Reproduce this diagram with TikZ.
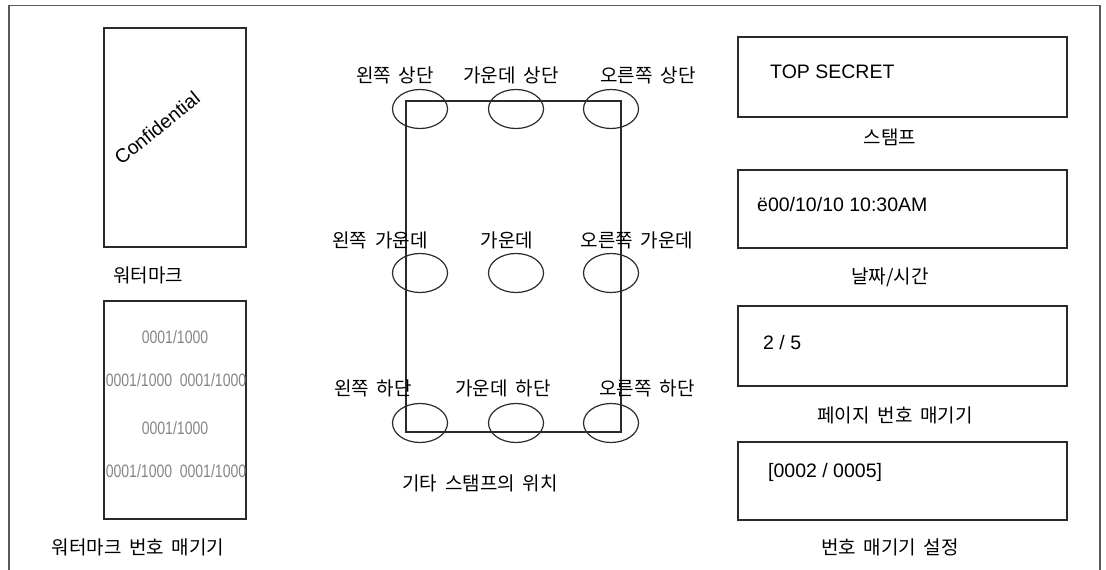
\documentclass[tikz,border=0pt]{standalone}
\usepackage{fontspec}
\setmainfont{Liberation Sans}
\newfontfamily\kr[WordSpace=1.8]{Noto Sans CJK KR}
\newfontfamily\narrowfont[FakeStretch=0.78]{Liberation Sans}
\usetikzlibrary{shapes.geometric}
\definecolor{linec}{HTML}{2A2A2A}
\definecolor{numgray}{HTML}{858585}
\definecolor{framec}{HTML}{5A5A5A}
\tikzset{
  page/.style={draw=linec, line width=1.4pt, rectangle, inner sep=0pt},
  spot/.style={draw=linec, line width=1.2pt, ellipse, inner sep=0pt, minimum width=55pt, minimum height=39pt},
  krlabel/.style={font=\kr\fontsize{19}{22}\selectfont, text=black, inner sep=0pt},
  boxtext/.style={font=\fontsize{19.5}{23}\selectfont, text=black, inner sep=0pt, anchor=west},
  numtext/.style={font=\narrowfont\fontsize{18}{20}\selectfont, text=numgray, inner sep=0pt}
}
\begin{document}
\begin{tikzpicture}[x=1pt,y=-1pt]
\useasboundingbox (0,0) rectangle (1106,570);
% outer frame
\draw[framec, line width=1.3pt] (9,570) -- (9,5.5) -- (1100,5.5) -- (1100,570);

% watermark page
\node[page, minimum width=142pt, minimum height=219pt] (wm) at (175,137.5) {};
\node[font=\fontsize{19.5}{23}\selectfont, rotate=39, inner sep=0pt] (conf) at (157,128) {Confidential};
\node[krlabel] (wmlabel) at (148,275) {워터마크};

% watermark numbering page
\node[page, minimum width=142pt, minimum height=218pt] (wn) at (175,410) {};
\node[numtext] (n1) at (175,337) {0001/1000};
\node[numtext] (n2) at (139,380) {0001/1000};
\node[numtext] (n3) at (213,380) {0001/1000};
\node[numtext] (n4) at (175,428) {0001/1000};
\node[numtext] (n5) at (139,471) {0001/1000};
\node[numtext] (n6) at (213,471) {0001/1000};
\node[krlabel] (wnlabel) at (138,547) {워터마크 번호 매기기};

% positions page
\node[page, minimum width=215pt, minimum height=331pt] (pos) at (513.5,266.5) {};
\node[spot] (tl) at (420,109) {};
\node[spot] (tc) at (516,109) {};
\node[spot] (tr) at (611,109) {};
\node[spot] (ml) at (420,273) {};
\node[spot] (mc) at (516,273) {};
\node[spot] (mr) at (611,273) {};
\node[spot] (bl) at (420,423) {};
\node[spot] (bc) at (516,423) {};
\node[spot] (br) at (611,423) {};
\node[krlabel] (ltl) at (395,75) {왼쪽 상단};
\node[krlabel] (ltc) at (511,75) {가운데 상단};
\node[krlabel] (ltr) at (648,75) {오른쪽 상단};
\node[krlabel] (lml) at (380,240) {왼쪽 가운데};
\node[krlabel] (lmc) at (507,240) {가운데};
\node[krlabel] (lmr) at (637,240) {오른쪽 가운데};
\node[krlabel] (lbl) at (373,388) {왼쪽 하단};
\node[krlabel] (lbc) at (503,388) {가운데 하단};
\node[krlabel] (lbr) at (647,388) {오른쪽 하단};
\node[krlabel] (poslabel) at (480,483) {기타 스탬프의 위치};

% right column boxes
\node[page, minimum width=329pt, minimum height=80pt] (s1) at (902.5,77) {};
\node[boxtext] (t1) at (770,72) {TOP SECRET};
\node[krlabel] (l1) at (890,137) {스탬프};

\node[page, minimum width=329pt, minimum height=78pt] (s2) at (902.5,209) {};
\node[boxtext] (t2) at (757,205) {ë00/10/10 10:30AM};
\node[krlabel] (l2) at (890,277) {날짜/시간};

\node[page, minimum width=329pt, minimum height=80pt] (s3) at (902.5,346) {};
\node[boxtext] (t3) at (763,343) {2 / 5};
\node[krlabel] (l3) at (895,415) {페이지 번호 매기기};

\node[page, minimum width=329pt, minimum height=78pt] (s4) at (902.5,481) {};
\node[boxtext] (t4) at (768,472) {[0002 / 0005]};
\node[krlabel] (l4) at (890,547) {번호 매기기 설정};
\end{tikzpicture}
\end{document}
